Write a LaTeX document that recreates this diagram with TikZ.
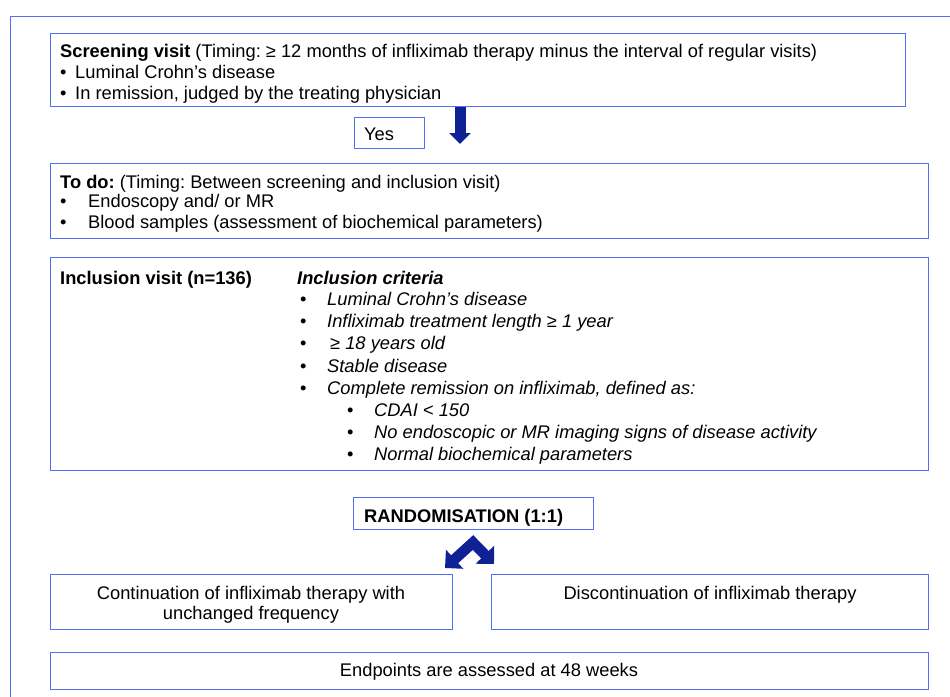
\documentclass[tikz,border=0pt]{standalone}
\usepackage{fontspec}
\setmainfont{Liberation Sans}
\usetikzlibrary{arrows.meta,positioning}
\definecolor{boxblue}{RGB}{82,112,245}
\definecolor{arrowblue}{RGB}{14,34,150}
\tikzset{
  box/.style={draw=boxblue, line width=1.3pt, rectangle, inner sep=0pt, anchor=north west},
  txt/.style={anchor=base west, inner sep=0pt},
  ctxt/.style={anchor=base, inner sep=0pt},
  fatarrow/.style={draw=arrowblue, line width=11pt, -{Triangle[width=21pt,length=11pt]}},
}
\frenchspacing
\begin{document}
\begin{tikzpicture}[x=1pt, y=-1pt, font=\fontsize{18.3}{21}\selectfont]
  \useasboundingbox (0,0) rectangle (950,696);
  % outer frame
  \draw[boxblue, line width=1pt] (10,700) -- (10,16) -- (955,16);

  % screening
  \node[box, minimum width=855pt, minimum height=73pt] (screening) at (50,33) {};
  \node[txt] (scr1) at (60,57) {\textbf{Screening visit} (Timing: ≥ 12 months of infliximab therapy minus the interval of regular visits)};
  \node[txt] (scrb1) at (60,78) {•};
  \node[txt] (scr2) at (75,78) {Luminal Crohn’s disease};
  \node[txt] (scrb2) at (60,99) {•};
  \node[txt] (scr3) at (75,99) {In remission, judged by the treating physician};

  \node[box, minimum width=70pt, minimum height=31pt] (yes) at (354,117) {};
  \node[txt] (yestext) at (364,140) {Yes};
  \coordinate (downtop) at (460,107);
  \coordinate (downtip) at (460,144);
  \draw[fatarrow] (downtop) -- (downtip);

  % to do
  \node[box, minimum width=878pt, minimum height=75pt] (todo) at (50,163) {};
  \node[txt] (todo1) at (60,188) {\textbf{To do:} (Timing: Between screening and inclusion visit)};
  \node[txt] (todob1) at (60,207) {•};
  \node[txt] (todo2) at (88,207) {Endoscopy and/ or MR};
  \node[txt] (todob2) at (60,228) {•};
  \node[txt] (todo3) at (88,228) {Blood samples (assessment of biochemical parameters)};

  % inclusion
  \node[box, minimum width=878pt, minimum height=213pt] (inclusion) at (50,257) {};
  \node[txt] (incvisit) at (60,284) {\textbf{Inclusion visit (n=136)}};
  \node[txt] (inchead) at (297,284) {\textbf{\textit{Inclusion criteria}}};
  \foreach \y/\t [count=\i] in {305/Luminal Crohn’s disease,
      327/Infliximab treatment length ≥ 1 year,
      349/\hspace{3pt}≥ 18 years old,
      372/Stable disease,
      394/{Complete remission on infliximab, defined as:}}
    \node[txt] (incb\i) at (300,\y) {•} node[txt] (inc\i) at (327,\y) {\textit{\t}};
  \foreach \y/\t [count=\i] in {416/CDAI < 150,
      438/No endoscopic or MR imaging signs of disease activity,
      460/Normal biochemical parameters}
    \node[txt] (subb\i) at (347,\y) {•} node[txt] (sub\i) at (374,\y) {\textit{\t}};

  % randomisation
  \node[box, minimum width=240pt, minimum height=32pt] (random) at (353,497) {};
  \node[txt] (randtext) at (364,522) {\textbf{RANDOMISATION (1:1)}};
  \coordinate (apex) at (473,542.5);
  \coordinate (lefttip) at (445,568);
  \coordinate (righttip) at (494,564);
  \draw[draw=arrowblue, line width=10.6pt, line join=miter,
    {Triangle[width=25pt,length=13pt]}-{Triangle[width=25pt,length=13pt]}]
    (lefttip) -- (apex) -- (righttip);

  % arms
  \node[box, minimum width=402pt, minimum height=55pt] (cont) at (50,574) {};
  \node[ctxt] (cont1) at (251,599) {Continuation of infliximab therapy with};
  \node[ctxt] (cont2) at (251,619) {unchanged frequency};
  \node[box, minimum width=437pt, minimum height=55pt] (discont) at (491,574) {};
  \node[ctxt] (discont1) at (710,599) {Discontinuation of infliximab therapy};

  % endpoints
  \node[box, minimum width=878pt, minimum height=37pt] (endpoints) at (50,652) {};
  \node[ctxt] (endtext) at (489,676) {Endpoints are assessed at 48 weeks};
\end{tikzpicture}
\end{document}
